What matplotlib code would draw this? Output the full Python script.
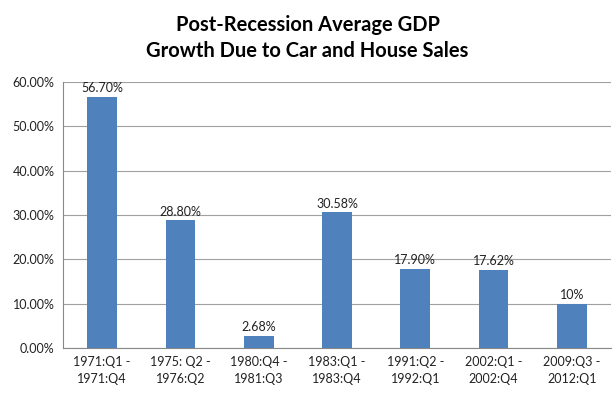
import matplotlib
matplotlib.use("Agg")
import matplotlib.pyplot as plt
import matplotlib.ticker as mticker

# data
periods = ["1971:Q1 -\n1971:Q4", "1975: Q2 -\n1976:Q2", "1980:Q4 -\n1981:Q3",
           "1983:Q1 -\n1983:Q4", "1991:Q2 -\n1992:Q1", "2002:Q1 -\n2002:Q4",
           "2009:Q3 -\n2012:Q1"]
growth = [56.70, 28.80, 2.68, 30.58, 17.90, 17.62, 10.0]
labels = ["56.70%", "28.80%", "2.68%", "30.58%", "17.90%", "17.62%", "10%"]

plt.rcParams['font.family'] = ['Lato', 'DejaVu Sans']

fig = plt.figure(figsize=(6.15, 3.99), dpi=100)
ax = fig.add_axes([0.1024, 0.1278, 0.891, 0.6667])

x = range(len(periods))
bars = ax.bar(x, growth, width=0.38, color="#4f81bd", zorder=3)
for b, lab in zip(bars, labels):
    ax.text(b.get_x() + b.get_width() / 2, b.get_height() + 0.6, lab,
            ha="center", va="bottom", fontsize=9, color="#222222")

ax.set_xlim(-0.5, len(periods) - 0.5)
ax.set_ylim(0, 60)
ax.set_yticks(range(0, 61, 10))
ax.yaxis.set_major_formatter(mticker.FuncFormatter(lambda v, p: "%.2f%%" % v))
ax.set_xticks(list(x))
ax.set_xticklabels(periods, fontsize=9, color="#222222", linespacing=1.45)
ax.tick_params(axis="y", labelsize=9, colors="#222222", length=0, pad=6)
ax.tick_params(axis="x", length=0, pad=6)
ax.grid(axis="y", color="#a0a0a0", linewidth=0.8, zorder=0)

for s in ["top", "right"]:
    ax.spines[s].set_visible(False)
ax.spines["left"].set_color("#888888")
ax.spines["bottom"].set_color("#888888")

fig.text(0.5, 0.905, "Post-Recession Average GDP\nGrowth Due to Car and House Sales",
         ha="center", va="center", fontsize=14.5, fontweight="bold",
         linespacing=1.4, color="black")

fig.savefig("out.png", dpi=100)
